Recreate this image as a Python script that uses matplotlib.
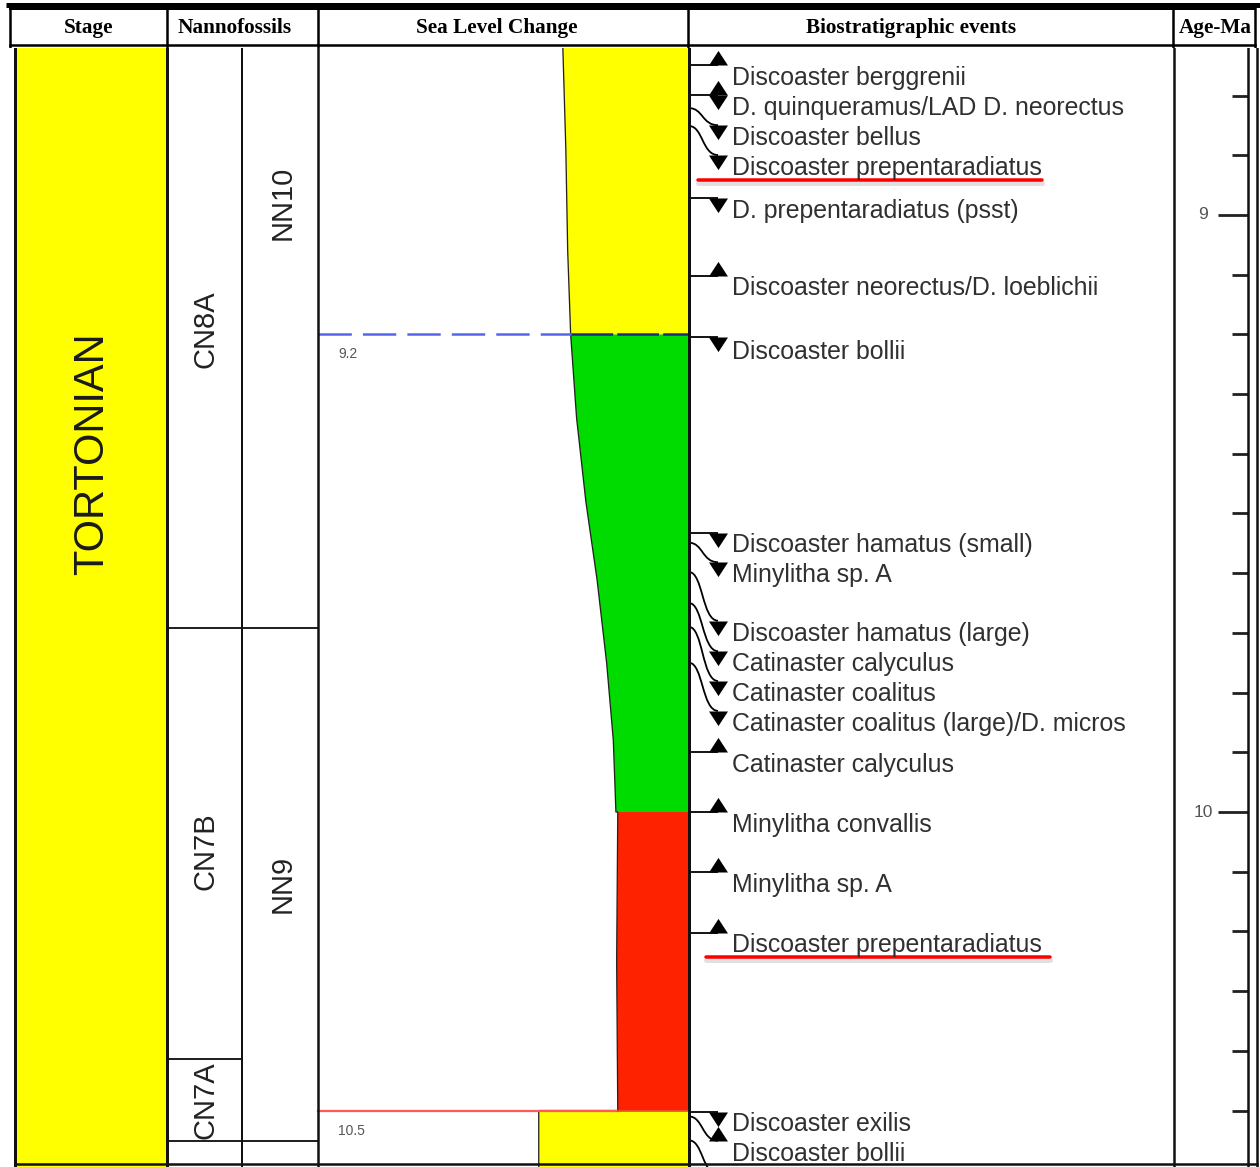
import numpy as np
import matplotlib
matplotlib.use("Agg")
import matplotlib.pyplot as plt
from matplotlib.path import Path
from matplotlib.patches import PathPatch, Polygon

plt.rcParams["font.family"] = ["Liberation Sans", "DejaVu Sans"]
plt.rcParams["lines.scale_dashes"] = False

# ---------------------------------------------------------------- data
HEADERS = ["Stage", "Nannofossils", "Sea Level Change",
           "Biostratigraphic events", "Age-Ma"]

STAGE_NAME = "TORTONIAN"

CN_NAMES = ["CN8A", "CN7B", "CN7A"]
CN_BASES = [9.692, 10.414, 10.551]

NN_NAMES = ["NN10", "NN9"]
NN_BASES = [9.692, 10.551]

# relative sea level: age (Ma) and shoreline position across the column (0 = left, 1 = right)
SEA_AGE = [8.70, 8.89, 9.06, 9.20, 9.34, 9.48, 9.61, 9.75, 9.88, 10.00, 10.00,
           10.25, 10.50, 10.50, 10.60]
SEA_POS = [0.659, 0.668, 0.673, 0.681, 0.697, 0.722, 0.752, 0.778, 0.796, 0.803,
           0.808, 0.805, 0.808, 0.595, 0.595]

TRACT_TOPS = [8.70, 9.20, 10.00, 10.50]
TRACT_BASES = [9.20, 10.00, 10.50, 10.60]
TRACT_COLORS = ["#ffff00", "#00dc00", "#ff2200", "#ffff00"]

SURFACE_AGES = [9.2, 10.5]
SURFACE_LABELS = ["9.2", "10.5"]

EVENT_NAMES = [
    "Discoaster berggrenii",
    "D. quinqueramus/LAD D. neorectus",
    "Discoaster bellus",
    "Discoaster prepentaradiatus",
    "D. prepentaradiatus (psst)",
    "Discoaster neorectus/D. loeblichii",
    "Discoaster bollii",
    "Discoaster hamatus (small)",
    "Minylitha sp. A",
    "Discoaster hamatus (large)",
    "Catinaster calyculus",
    "Catinaster coalitus",
    "Catinaster coalitus (large)/D. micros",
    "Catinaster calyculus",
    "Minylitha convallis",
    "Minylitha sp. A",
    "Discoaster prepentaradiatus",
    "Discoaster exilis",
    "Discoaster bollii",
    "",
]
EVENT_AGES = [8.749, 8.799, 8.821, 8.851, 8.972, 9.102, 9.204, 9.533, 9.549, 9.598,
              9.650, 9.690, 9.750, 9.900, 10.000, 10.100, 10.203, 10.503, 10.510,
              10.550]
EVENT_KINDS = ["base", "both", "top", "top", "top", "base", "top", "top", "top",
               "top", "top", "top", "top", "base", "base", "base", "base", "top",
               "base", "top"]
LABEL_AGES = [8.767, 8.817, 8.868, 8.918, 8.990, 9.119, 9.226, 9.549, 9.600, 9.698,
              9.749, 9.799, 9.849, 9.918, 10.018, 10.119, 10.219, 10.519, 10.569,
              10.625]
HIGHLIGHTED = [3, 16]

AGE_TICKS = np.round(np.arange(8.8, 10.55, 0.1), 1)
AGE_MAJOR = [9, 10]

# ---------------------------------------------------------------- layout (pixels)
W, H = 1260, 1167
HEAD_BOTTOM = 48
AGE_TOP, AGE_BOT = 8.7203, 10.5946
MA_PER_PX = (AGE_BOT - AGE_TOP) / (H - HEAD_BOTTOM)

X_LEFT, X_STAGE, X_CN, X_NN = 15, 167, 242, 318
X_SEA = 689
X_BIO = 1174
X_AXIS = 1248
X_RIGHT = 1257
MARK_X = 718
TEXT_X = 732

HEADER_X = [89, 235, 497, 911, 1215]
STAGE_LABEL_AT = 9.40
CN_LABEL_AT = [9.192, 10.065, 10.482]
NN_LABEL_AT = [8.98, 10.12]


def px(n):
    """Pixel count expressed in points for line widths."""
    return n * 72 / 100


fig = plt.figure(figsize=(W / 100, H / 100), dpi=100)

# ---------------------------------------------------------------- header row
hx = fig.add_axes([0, 1 - HEAD_BOTTOM / H, 1, HEAD_BOTTOM / H])
hx.set_xlim(0, W)
hx.set_ylim(HEAD_BOTTOM, 0)
hx.axis("off")
hx.plot([6, W], [5, 5], color="black", lw=px(5), solid_capstyle="butt")
hx.plot([10, 1255], [45, 45], color="black", lw=px(2.5))
hx.plot([10, 1255], [9, 9], color="black", lw=px(2))
head_edges = [10, X_STAGE, X_NN, X_SEA - 1, X_BIO - 1, 1255]
for xv in head_edges:
    hx.plot([xv, xv], [8, HEAD_BOTTOM], color="black", lw=px(2.5))
for name, xc in zip(HEADERS, HEADER_X):
    hx.text(xc, 28, name, ha="center", va="center", fontsize=15.3,
            fontweight="bold", family=["Liberation Serif", "DejaVu Serif"])

# ---------------------------------------------------------------- chart body
ax = fig.add_axes([0, 0, 1, 1 - HEAD_BOTTOM / H])
ax.set_xlim(0, W)
ax.set_ylim(AGE_BOT, AGE_TOP)
ax.axis("off")

# stage column
ax.fill_betweenx([AGE_TOP, AGE_BOT], X_LEFT + 2, X_STAGE, color="#ffff00", lw=0)
ax.text((X_LEFT + X_STAGE) / 2 + 1, STAGE_LABEL_AT, STAGE_NAME, rotation=90,
        ha="center", va="center", fontsize=30, color="#1a1a1a")

# nannofossil zones
for name, base, at in zip(CN_NAMES, CN_BASES, CN_LABEL_AT):
    ax.plot([X_STAGE, X_CN], [base, base], color="#222222", lw=px(2))
    ax.text((X_STAGE + X_CN) / 2 + 1, at, name, rotation=90,
            ha="center", va="center", fontsize=21, color="#222222")
for name, base, at in zip(NN_NAMES, NN_BASES, NN_LABEL_AT):
    ax.plot([X_CN, X_NN], [base, base], color="#222222", lw=px(2))
    ax.text((X_CN + X_NN) / 2 + 3, at, name, rotation=90,
            ha="center", va="center", fontsize=21, color="#222222")

# sea-level column
sea_age = np.array(SEA_AGE)
sea_x = X_NN + np.array(SEA_POS) * (X_SEA - X_NN)
for top, base, col in zip(TRACT_TOPS, TRACT_BASES, TRACT_COLORS):
    m = (sea_age >= top) & (sea_age <= base)
    verts = list(zip(sea_x[m], sea_age[m])) + [(X_SEA, base), (X_SEA, top)]
    ax.add_patch(Polygon(verts, closed=True, facecolor=col, edgecolor="none"))
ax.plot(sea_x, sea_age, color="#222222", lw=px(1.3))

shore_92 = np.interp(SURFACE_AGES[0], sea_age[:4], sea_x[:4])
ax.plot([X_NN, shore_92], [SURFACE_AGES[0]] * 2, color="#5566ee", lw=px(2.5),
        dashes=(24, 8))
ax.plot([shore_92, X_SEA], [SURFACE_AGES[0]] * 2, color="#1d2b80", lw=px(2.5),
        dashes=(30, 3))
shore_105 = sea_x[np.where(sea_age == SURFACE_AGES[1])[0][0]]
ax.plot([X_NN, shore_105], [SURFACE_AGES[1]] * 2, color="#ff5a5a", lw=px(2.2))
ax.plot([shore_105, X_SEA], [SURFACE_AGES[1]] * 2, color="#e83a10", lw=px(1.5))
for a, lab in zip(SURFACE_AGES, SURFACE_LABELS):
    ax.text(338, a + 20 * MA_PER_PX, lab, fontsize=10, color="#555555",
            ha="left", va="center")

# biostratigraphic events
up_tri = [(-0.65, 0), (0.65, 0), (0, 1)]
down_tri = [(-0.65, 0), (0.65, 0), (0, -1)]
label_drop = 11 * MA_PER_PX
for i, (name, age, kind, lab) in enumerate(zip(EVENT_NAMES, EVENT_AGES,
                                                EVENT_KINDS, LABEL_AGES)):
    end = lab - label_drop
    if abs(end - age) < 5 * MA_PER_PX:
        end = age
        ax.plot([X_SEA, MARK_X], [age, age], color="black", lw=px(1.8),
                solid_capstyle="butt")
    else:
        path = Path([(X_SEA, age), (X_SEA + 14, age), (MARK_X - 16, end),
                     (MARK_X, end)],
                    [Path.MOVETO, Path.CURVE4, Path.CURVE4, Path.CURVE4])
        ax.add_patch(PathPatch(path, facecolor="none", edgecolor="black",
                               lw=px(1.8)))
    if kind in ("base", "both"):
        ax.plot(MARK_X, end, marker=up_tri, ms=21, color="black", mew=0)
    if kind in ("top", "both"):
        ax.plot(MARK_X, end, marker=down_tri, ms=21, color="black", mew=0)
    if name:
        ax.text(TEXT_X, lab + 2 * MA_PER_PX, name, fontsize=17.9,
                color="#303030", ha="left", va="center")
    if i in HIGHLIGHTED:
        ul = lab + 14 * MA_PER_PX
        x0 = 698 if i == HIGHLIGHTED[0] else 706
        ax.plot([x0, x0 + 344], [ul + 3 * MA_PER_PX] * 2, color="#000000",
                alpha=0.12, lw=px(5), solid_capstyle="round")
        ax.plot([x0, x0 + 344], [ul, ul], color="#ff0000", lw=px(3.5),
                solid_capstyle="round")

# age scale
for t in AGE_TICKS:
    major = t in AGE_MAJOR
    ln = 30 if major else 16
    ax.plot([X_AXIS - ln, X_AXIS], [t, t], color="#222222", lw=px(2.8),
            solid_capstyle="butt")
    if major:
        ax.text(1203, t, f"{int(t)}", fontsize=12.5, color="#555555",
                ha="center", va="center")

# column frame lines
for xv, w in [(X_LEFT, 3), (X_STAGE, 3), (X_CN, 2), (X_NN, 2.5), (X_SEA, 3),
              (X_BIO, 2.5), (X_AXIS, 2.5), (X_RIGHT, 2.5)]:
    ax.plot([xv, xv], [AGE_TOP, AGE_BOT], color="#111111", lw=px(w))
ax.plot([X_LEFT, X_RIGHT], [AGE_BOT - 3 * MA_PER_PX] * 2, color="#111111",
        lw=px(2.5))

fig.savefig("out.png", dpi=100)
